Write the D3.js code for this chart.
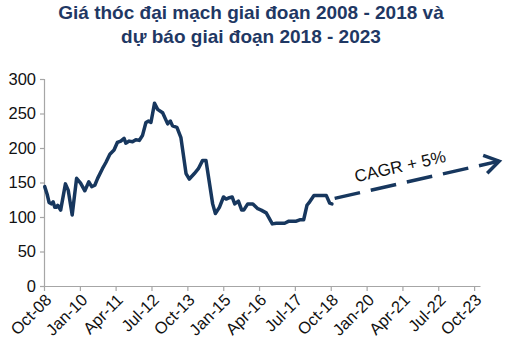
<!DOCTYPE html>
<html>
<head>
<meta charset="utf-8">
<script src="https://cdn.jsdelivr.net/npm/d3@7"></script>
<style>
  html, body { margin: 0; padding: 0; background: #fff; }
  svg { display: block; font-family: "Liberation Sans", Arial, sans-serif; }
</style>
</head>
<body>
<svg id="chart" width="510" height="348"></svg>
<script>
// Barley price history (index), Oct 2008 – Oct 2018
const priceDates = [
  "2008-10-10","2008-11-10","2008-12-05","2009-01-02","2009-01-25","2009-02-15","2009-03-05","2009-03-25",
  "2009-05-01","2009-07-01","2009-08-05","2009-09-25","2009-11-20","2010-01-10","2010-03-05","2010-04-25",
  "2010-06-01","2010-07-10","2010-08-15","2010-10-15","2010-11-28","2011-01-18","2011-03-12","2011-04-23",
  "2011-06-06","2011-07-18","2011-08-09","2011-09-21","2011-11-02","2011-12-15","2012-01-27","2012-03-08",
  "2012-04-21","2012-05-24","2012-06-24","2012-08-09","2012-09-17","2012-11-20","2013-01-23","2013-02-27",
  "2013-03-26","2013-05-21","2013-07-11","2013-09-14","2013-10-26","2013-12-29","2014-02-18","2014-04-13",
  "2014-05-26","2014-08-19","2014-09-23","2014-11-13","2015-01-04","2015-02-07","2015-03-20","2015-04-24",
  "2015-05-27","2015-07-13","2015-08-24","2015-09-19","2015-11-09","2016-01-13","2016-03-16","2016-04-28",
  "2016-07-01","2016-09-17","2016-11-07","2017-02-21","2017-04-16","2017-07-19","2017-09-01","2017-10-21",
  "2017-12-02","2018-01-06","2018-03-01","2018-08-06","2018-09-18","2018-10-16"
];
const priceValues = [
  144, 133, 121, 119, 122, 114, 114, 117,
  110, 148, 139, 103, 156, 149, 138, 151,
  144, 146, 156, 170, 179, 191, 197, 208,
  210, 214, 207, 210, 209, 212, 211, 218,
  237, 239, 237, 265, 256, 251, 235, 239,
  232, 230, 215, 163, 155, 163, 170, 182,
  182, 119, 105, 114, 129, 126, 128, 129,
  119, 123, 110, 110, 119, 119, 112, 110,
  106, 90, 91, 91, 94, 94, 96, 96,
  117, 122, 131, 131, 120, 119
];

// Forecast trend 2018 – 2023 (CAGR + 5%)
const forecastDates = ["2018-11-20", "2024-08-15"];
const forecastValues = [127, 181];
const forecastLabel = "CAGR + 5%";

// Axis ticks
const xTickDates = ["2008-10-01","2010-01-01","2011-04-01","2012-07-01","2013-10-01","2015-01-01",
  "2016-04-01","2017-07-01","2018-10-01","2020-01-01","2021-04-01","2022-07-01","2023-10-01"];
const xTickLabels = ["Oct-08","Jan-10","Apr-11","Jul-12","Oct-13","Jan-15",
  "Apr-16","Jul-17","Oct-18","Jan-20","Apr-21","Jul-22","Oct-23"];
const yTicks = [0, 50, 100, 150, 200, 250, 300];

const titleLines = ["Giá thóc đại mạch giai đoạn 2008 - 2018 và", "dự báo giai đoạn 2018 - 2023"];

const parse = d3.timeParse("%Y-%m-%d");
const navy = "#17375e";
const axisGrey = "#a6a6a6";
const labelColor = "#111";

const svg = d3.select("#chart");

const x = d3.scaleTime()
  .domain([parse("2008-10-01"), parse("2023-12-15")])
  .range([44, 480]);
const y = d3.scaleLinear().domain([0, 300]).range([286, 79]);

// Title
svg.append("g").selectAll("text")
  .data(titleLines)
  .join("text")
  .attr("x", 251)
  .attr("y", (d, i) => 19 + i * 24)
  .attr("text-anchor", "middle")
  .attr("font-size", 19)
  .attr("font-weight", "bold")
  .attr("fill", "#1f3864")
  .text(d => d);

// Y axis
const yAxis = svg.append("g")
  .attr("transform", `translate(${x.range()[0]},0)`)
  .call(d3.axisLeft(y).tickValues(yTicks).tickSize(4).tickPadding(4));
yAxis.select(".domain").attr("stroke", axisGrey).attr("stroke-width", 1.2);
yAxis.selectAll(".tick line").attr("stroke", axisGrey).attr("stroke-width", 1.2);
yAxis.selectAll(".tick text")
  .attr("font-size", 16.5)
  .attr("font-family", "Liberation Sans, Arial, sans-serif")
  .attr("fill", labelColor);

// X axis
const xAxis = svg.append("g")
  .attr("transform", `translate(0,${y(0)})`)
  .call(d3.axisBottom(x)
    .tickValues(xTickDates.map(parse))
    .tickFormat((d, i) => xTickLabels[i])
    .tickSize(5)
    .tickSizeOuter(0));
xAxis.select(".domain").attr("stroke", axisGrey).attr("stroke-width", 1.2);
xAxis.selectAll(".tick line").attr("stroke", axisGrey).attr("stroke-width", 1.2);
xAxis.selectAll(".tick text")
  .attr("font-size", 16.5)
  .attr("font-family", "Liberation Sans, Arial, sans-serif")
  .attr("fill", labelColor)
  .attr("text-anchor", "end")
  .attr("dy", "0")
  .attr("y", 0)
  .attr("transform", "translate(8,15) rotate(-45)");

// Historical price line
const priceData = priceDates.map((d, i) => ({ date: parse(d), value: priceValues[i] }));
const line = d3.line().x(d => x(d.date)).y(d => y(d.value)).curve(d3.curveLinear);

svg.append("path")
  .datum(priceData)
  .attr("fill", "none")
  .attr("stroke", navy)
  .attr("stroke-width", 3.5)
  .attr("stroke-linejoin", "round")
  .attr("stroke-linecap", "round")
  .attr("d", line);

// Forecast dashed arrow
const forecastData = forecastDates.map((d, i) => ({ date: parse(d), value: forecastValues[i] }));
svg.append("path")
  .datum(forecastData)
  .attr("fill", "none")
  .attr("stroke", navy)
  .attr("stroke-width", 3.5)
  .attr("stroke-dasharray", "26,11")
  .attr("d", line);

const p0 = [x(forecastData[0].date), y(forecastData[0].value)];
const p1 = [x(forecastData[1].date), y(forecastData[1].value)];
const ang = Math.atan2(p1[1] - p0[1], p1[0] - p0[0]);
const headLen = 17, headSpread = Math.PI / 5.5;
svg.append("path")
  .attr("fill", "none")
  .attr("stroke", navy)
  .attr("stroke-width", 3.5)
  .attr("stroke-linejoin", "miter")
  .attr("d", d3.line()([
    [p1[0] - headLen * Math.cos(ang - headSpread), p1[1] - headLen * Math.sin(ang - headSpread)],
    p1,
    [p1[0] - headLen * Math.cos(ang + headSpread), p1[1] - headLen * Math.sin(ang + headSpread)]
  ]));

// Trend label along the arrow
const angDeg = ang * 180 / Math.PI;
const mid = [p0[0] + (p1[0] - p0[0]) * 0.42, p0[1] + (p1[1] - p0[1]) * 0.42];
svg.append("text")
  .attr("transform", `translate(${mid[0]},${mid[1]}) rotate(${angDeg})`)
  .attr("y", -11)
  .attr("text-anchor", "middle")
  .attr("font-size", 17)
  .attr("fill", labelColor)
  .text(forecastLabel);
</script>
</body>
</html>
